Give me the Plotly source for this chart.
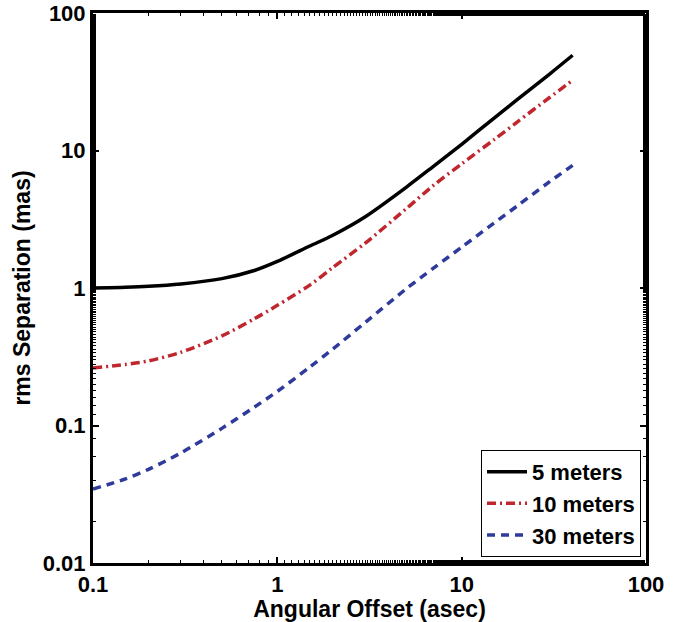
import plotly.graph_objects as go

offset_asec = [0.1, 0.15, 0.2, 0.3, 0.5, 0.75, 1, 1.5, 2, 3, 5, 7, 10, 15, 20, 30, 40]
sep_5m = [1.0, 1.012, 1.028, 1.07, 1.17, 1.34, 1.56, 2.02, 2.42, 3.3, 5.4, 7.64, 11.1, 17.2, 23.4, 36.0, 49.3]
sep_10m = [0.262, 0.278, 0.295, 0.341, 0.448, 0.597, 0.748, 1.05, 1.41, 2.12, 3.77, 5.55, 8.0, 12.0, 16.1, 24.3, 32.4]
sep_30m = [0.0345, 0.0409, 0.048, 0.0632, 0.0953, 0.136, 0.177, 0.266, 0.36, 0.562, 0.986, 1.39, 1.98, 2.97, 3.95, 5.93, 7.8]

names = ["5 meters", "10 meters", "30 meters"]
x_ticks = [0.1, 1, 10, 100]
x_ticktext = ["0.1", "1", "10", "100"]
y_ticks = [0.01, 0.1, 1, 10, 100]
y_ticktext = ["0.01", "0.1", "1", "10", "100"]

FONT = "Liberation Sans, Arial, sans-serif"

fig = go.Figure()
fig.add_trace(go.Scatter(x=offset_asec, y=sep_5m, name=names[0], mode="lines",
                         line=dict(color="black", width=3.5, shape="spline", smoothing=0.8)))
fig.add_trace(go.Scatter(x=offset_asec, y=sep_10m, name=names[1], mode="lines",
                         line=dict(color="#C0262E", width=3.5, dash="9px,4px,2px,4px",
                                   shape="spline", smoothing=0.8)))
fig.add_trace(go.Scatter(x=offset_asec, y=sep_30m, name=names[2], mode="lines",
                         line=dict(color="#2E3A9C", width=3.5, dash="8px,6px",
                                   shape="spline", smoothing=0.8)))

axis_common = dict(
    type="log", automargin=False,
    showline=True, linecolor="black", linewidth=3, mirror="allticks",
    ticks="inside", ticklen=6, tickwidth=2, tickcolor="black",
    minor=dict(ticks="inside", ticklen=3, tickwidth=1, tickcolor="black"),
    showgrid=False, zeroline=False,
    tickfont=dict(family=FONT, size=22, color="black", weight="bold"),
)

fig.update_xaxes(**axis_common, range=[-1, 2], tickvals=x_ticks, ticktext=x_ticktext,
                 title=dict(text="Angular Offset (asec)", standoff=0,
                            font=dict(family=FONT, size=23, color="black", weight="bold")))
fig.update_yaxes(**axis_common, range=[-2, 2], tickvals=y_ticks, ticktext=y_ticktext,
                 title=dict(text="rms Separation (mas)", standoff=6,
                            font=dict(family=FONT, size=23, color="black", weight="bold")))

fig.update_layout(
    width=694, height=622,
    margin=dict(l=93, r=48, t=13, b=59),
    paper_bgcolor="white", plot_bgcolor="white",
    showlegend=True,
    legend=dict(x=0.991, y=0.011, xanchor="right", yanchor="bottom",
                bgcolor="white", bordercolor="black", borderwidth=1,
                font=dict(family=FONT, size=22, color="black", weight="bold"),
                tracegroupgap=0, itemwidth=40),
)

fig.write_html("out.html", config={"displayModeBar": False},
               post_script="document.body.style.margin='0px';document.body.style.overflow='hidden';")
